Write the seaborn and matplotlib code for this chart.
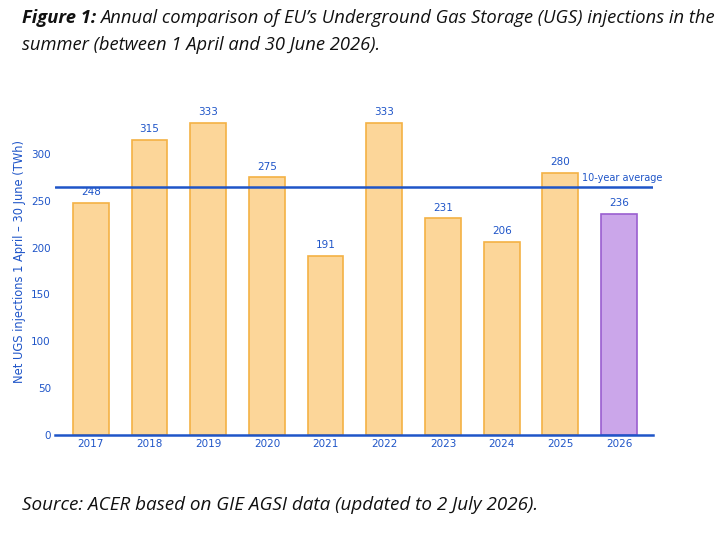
import matplotlib
matplotlib.use("Agg")
import matplotlib.pyplot as plt
import seaborn as sns
import pandas as pd

# Data
years = ["2017", "2018", "2019", "2020", "2021", "2022", "2023", "2024", "2025", "2026"]
injections = [248, 315, 333, 275, 191, 333, 231, 206, 280, 236]
ten_year_avg = 265

BLUE = "#1f55c8"
FILL = "#fcd699"
EDGE = "#f4b144"
FILL_CUR = "#cba6ea"
EDGE_CUR = "#9a5fd0"

sns.set_theme(style="white")
plt.rcParams["font.family"] = ["DejaVu Sans"]

df = pd.DataFrame({"year": years, "twh": injections})

fig = plt.figure(figsize=(7.24, 5.41), dpi=100)
ax = fig.add_axes([0.076, 0.196, 0.826, 0.641])

colors = [FILL] * (len(years) - 1) + [FILL_CUR]
sns.barplot(data=df, x="year", y="twh", hue="year", palette=colors,
            legend=False, width=0.61, saturation=1, ax=ax)
edges = [EDGE] * (len(years) - 1) + [EDGE_CUR]
for patch, ec in zip(ax.patches, edges):
    patch.set_edgecolor(ec)
    patch.set_linewidth(1.2)

for i, v in enumerate(injections):
    ax.text(i, v + 6, str(v), ha="center", va="bottom", fontsize=7.5, color=BLUE)

ax.axhline(ten_year_avg, color=BLUE, linewidth=1.8, zorder=3)
ax.text(8.37, ten_year_avg + 4, "10-year average", ha="left", va="bottom",
        fontsize=7, color=BLUE)

ax.set_xlim(-0.61, 9.58)
ax.set_ylim(0, 370)
ax.set_yticks([0, 50, 100, 150, 200, 250, 300])
ax.tick_params(axis="both", colors=BLUE, labelsize=7.5, length=0, pad=3)
ax.set_xlabel("")
ax.set_ylabel("Net UGS injections 1 April – 30 June (TWh)", color=BLUE, fontsize=8.3, labelpad=4)
for s in ["top", "right", "left"]:
    ax.spines[s].set_visible(False)
ax.spines["bottom"].set_color(BLUE)
ax.spines["bottom"].set_linewidth(1.8)

# Title and source
fig.canvas.draw()
renderer = fig.canvas.get_renderer()
title_font = ["Open Sans", "DejaVu Sans"]
fs = 13.2
t1 = fig.text(22 / 724, 1 - 18 / 541, "Figure 1:", fontsize=fs, fontweight="bold",
              style="italic", family=title_font, va="center", color="#111111")
bb = t1.get_window_extent(renderer=renderer)
fig.text(bb.x1 / 724 + 0.005, 1 - 18 / 541,
         "Annual comparison of EU’s Underground Gas Storage (UGS) injections in the",
         fontsize=fs, style="italic", family=title_font, va="center", color="#111111")
fig.text(22 / 724, 1 - 45 / 541, "summer (between 1 April and 30 June 2026).",
         fontsize=fs, style="italic", family=title_font, va="center", color="#111111")
fig.text(22 / 724, 1 - 505 / 541, "Source: ACER based on GIE AGSI data (updated to 2 July 2026).",
         fontsize=13.6, style="italic", family=title_font, va="center", color="#111111")

fig.savefig("out.png", dpi=100)
